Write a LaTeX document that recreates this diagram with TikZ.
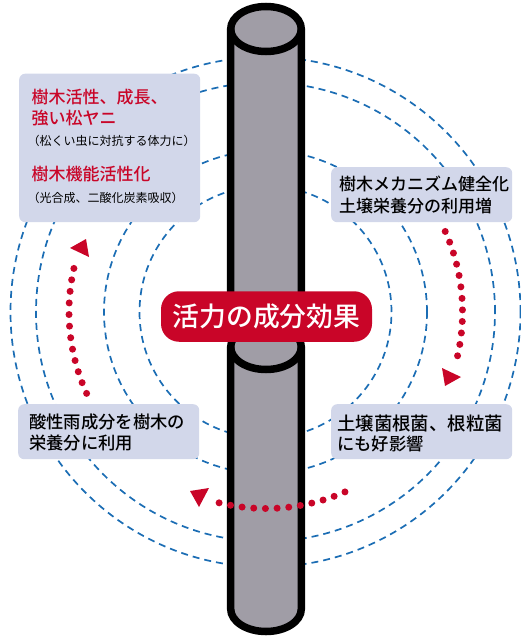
\documentclass[tikz,border=0pt]{standalone}
\usepackage{fontspec}
\setmainfont{Noto Sans CJK JP}
\newfontfamily\medfont{Noto Sans CJK JP Medium}
\newfontfamily\pillfont{Noto Sans CJK JP Medium}
\newfontfamily\smallfont{Noto Sans CJK JP}
\definecolor{polegray}{HTML}{A09DA6}
\definecolor{boxblue}{HTML}{D2D7EA}
\definecolor{ringblue}{HTML}{1B6DB4}
\definecolor{accentred}{HTML}{C90528}
\tikzset{
  ring/.style={draw=ringblue,line width=1.7pt,dash pattern=on 7pt off 5pt},
  pole/.style={draw=black,line width=7.5pt,fill=polegray},
  infobox/.style={fill=boxblue,rounded corners=6pt,draw=none,inner sep=0pt,anchor=north west},
  dot/.style={fill=accentred},
  pointer/.style={fill=accentred,draw=none},
  label/.style={inner sep=0pt,anchor=west,font=\medfont\fontsize{17}{17}\selectfont,text=black},
  redlabel/.style={label,text=accentred},
  smalllabel/.style={inner sep=0pt,anchor=west,font=\smallfont\fontsize{12}{12}\selectfont,text=black},
}
\begin{document}
\begin{tikzpicture}[x=1pt,y=-1pt]
\useasboundingbox (0,0) rectangle (521,637);
% rings
\foreach \r in {255,229.5,161.5,126}{
  \draw[ring] (265.5,312) circle[radius=\r pt];
}
% lower pole
\draw[pole] (230.7,347) -- (230.7,609) arc[start angle=180,end angle=360,x radius=35.3pt,y radius=22.5pt] -- (301.3,347) arc[start angle=0,end angle=180,x radius=35.3pt,y radius=22.5pt] -- cycle;
\draw[pole,fill=none] (230.7,347) arc[start angle=180,end angle=360,x radius=35.3pt,y radius=22.5pt];
% upper pole
\draw[pole] (230.7,29) -- (230.7,320) -- (301.3,320) -- (301.3,29) arc[start angle=0,end angle=180,x radius=35.3pt,y radius=22.5pt] -- cycle;
\draw[pole,fill=none] (230.7,29) arc[start angle=180,end angle=360,x radius=35.3pt,y radius=22.5pt];
% boxes
\node[infobox,minimum width=181pt,minimum height=148.5pt] (boxa) at (19,73.5) {};
\node[infobox,minimum width=181pt,minimum height=55pt] (boxb) at (331,167) {};
\node[infobox,minimum width=181pt,minimum height=55pt] (boxc) at (18,404) {};
\node[infobox,minimum width=181pt,minimum height=55pt] (boxd) at (331,404) {};
% box texts
\node[redlabel] (ta1) at (31.5,97) {樹木活性、成長、};
\node[redlabel] (ta2) at (31.5,118.5) {強い松ヤニ};
\node[smalllabel] (ta3) at (27.5,141) {（松くい虫に対抗する体力に）};
\node[redlabel] (ta4) at (31.5,174) {樹木機能活性化};
\node[smalllabel] (ta5) at (27.5,197.5) {（光合成、二酸化炭素吸収）};
\node[label] (tb1) at (339,184) {樹木メカニズム健全化};
\node[label] (tb2) at (339,206) {土壌栄養分の利用増};
\node[label,font=\medfont\fontsize{17.3}{17}\selectfont] (tc1) at (29,422) {酸性雨成分を樹木の};
\node[label,font=\medfont\fontsize{17.3}{17}\selectfont] (tc2) at (29,443) {栄養分に利用};
\node[label,font=\medfont\fontsize{18.4}{18}\selectfont] (td1) at (337,424) {土壌菌根菌、根粒菌};
\node[label,font=\medfont\fontsize{17.3}{17}\selectfont] (td2) at (337,444) {にも好影響};
% centre pill
\node[fill=accentred,rounded corners=18pt,minimum width=211pt,minimum height=50.5pt,inner sep=0pt,text=white,font=\pillfont\fontsize{26.8}{27}\selectfont] (pill) at (266.5,316.5) {活力の成分効果};
% red dots
\foreach \a in {0,...,11}{
  \fill[dot] ({266+196.5*cos(-24.2+\a*3.37)},{312+196.5*sin(-24.2+\a*3.37)}) circle[radius=3.5pt];
  \fill[dot] ({266+196.5*cos(66.3+\a*3.41)},{312+196.5*sin(66.3+\a*3.41)}) circle[radius=3.5pt];
  \fill[dot] ({266+197*cos(155.6+\a*3.38)},{312+197*sin(155.6+\a*3.38)}) circle[radius=3.5pt];
}
% arrowheads
\fill[pointer] (70,248) -- (86,239) -- (89,257) -- cycle;
\fill[pointer] (442,368) -- (461,377) -- (445,386) -- cycle;
\fill[pointer] (190,491) -- (209,488) -- (199,507) -- cycle;
\end{tikzpicture}
\end{document}
